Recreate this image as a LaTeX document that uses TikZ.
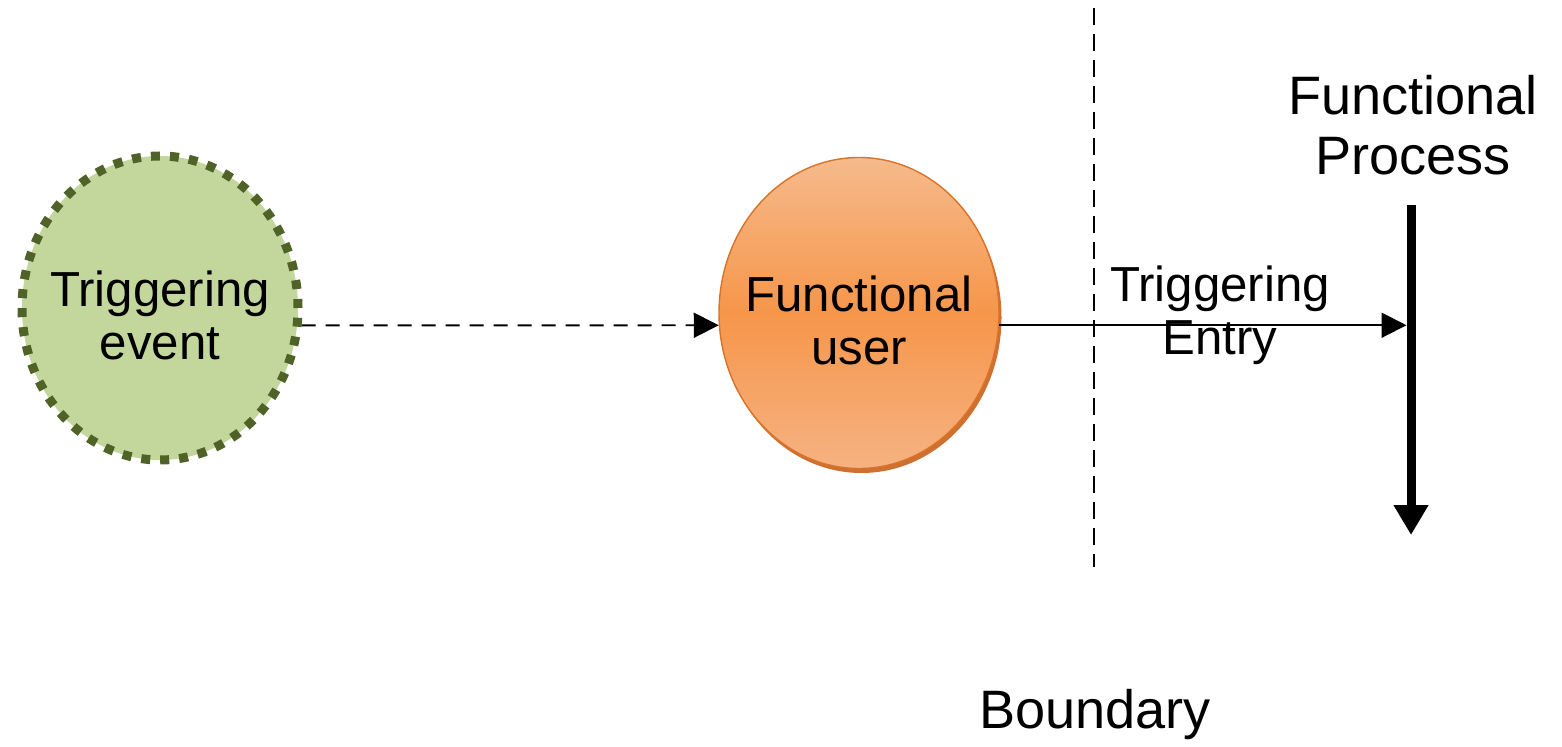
\documentclass[tikz,border=0pt]{standalone}
\usepackage{fontspec}
\setmainfont{Liberation Sans}
\usetikzlibrary{positioning, arrows.meta, shapes.geometric, shadows}
\definecolor{evfill}{HTML}{C3D69B}
\definecolor{evdraw}{HTML}{4F6228}
\definecolor{usertop}{HTML}{F6BA8C}
\definecolor{usermid}{HTML}{F6964A}
\definecolor{userbot}{HTML}{F6B282}
\definecolor{userdraw}{HTML}{D9732A}
\definecolor{usershade}{HTML}{C8601A}

\begin{document}
\begin{tikzpicture}[%opacity=0.5,
  eventnode/.style = {shape=ellipse, inner sep=0pt,
    minimum width=5.52cm, minimum height=6.08cm,
    fill=evfill, draw=evdraw, line width=0.18cm,
    dash pattern=on 0.18cm off 0.2cm},
  usernode/.style = {shape=ellipse, inner sep=0pt,
    minimum width=5.6cm, minimum height=6.22cm,
    draw=userdraw, line width=0.8pt,
    top color=usertop, bottom color=userbot, middle color=usermid,
    drop shadow={shadow xshift=0.05cm, shadow yshift=-0.09cm,
      fill=usershade, opacity=0.9}},
  inside/.style = {align=center, yshift=-0.15cm,
    font=\fontsize{28}{30.5}\selectfont},
  label/.style = {align=center, font=\fontsize{28}{30}\selectfont},
  title/.style = {align=center, font=\fontsize{30.8}{34}\selectfont},
  line/.style={draw, line width=1.1pt, -{Triangle[length=0.5cm, width=0.5cm]}},
  boundary/.style={draw, line width=1.3pt, dash pattern=on 0.34cm off 0.18cm},
  procline/.style={draw, line width=0.18cm, -{Triangle[length=0.6cm, width=0.66cm]}}
  ]
  \useasboundingbox (0,0) rectangle (31.24,14.92);
  \node[eventnode] (event) at (3.2,8.76) {};
  \node[inside] (eventtext) at (event) {Triggering\\event};
  \node[usernode] (user) at (17.18,8.66) {};
  \node[inside] (usertext) at (user) {Functional\\user};
  \coordinate (btop) at (21.88,14.76);
  \coordinate (bbot) at (21.88,3.58);
  \coordinate (ptop) at (28.22,10.82);
  \coordinate (pbot) at (28.22,4.22);
  \node[title] (process) at (28.26,12.42) {Functional\\Process};
  \node[title] (bname) at (21.9,0.62) {Boundary};
  \node[label] (entry) at (24.4,8.62) {Triggering\\Entry};
  % connectors
  \path[line, dash pattern=on 0.28cm off 0.2cm] (event.-7) -- (user.185.3);
  \path[boundary] (btop) -- (bbot);
  \path[procline] (ptop) -- (pbot);
  \path[line, shorten >=0.09cm] (user.-5.3) -- (user.-5.3 -| ptop);
\end{tikzpicture}
\end{document}
